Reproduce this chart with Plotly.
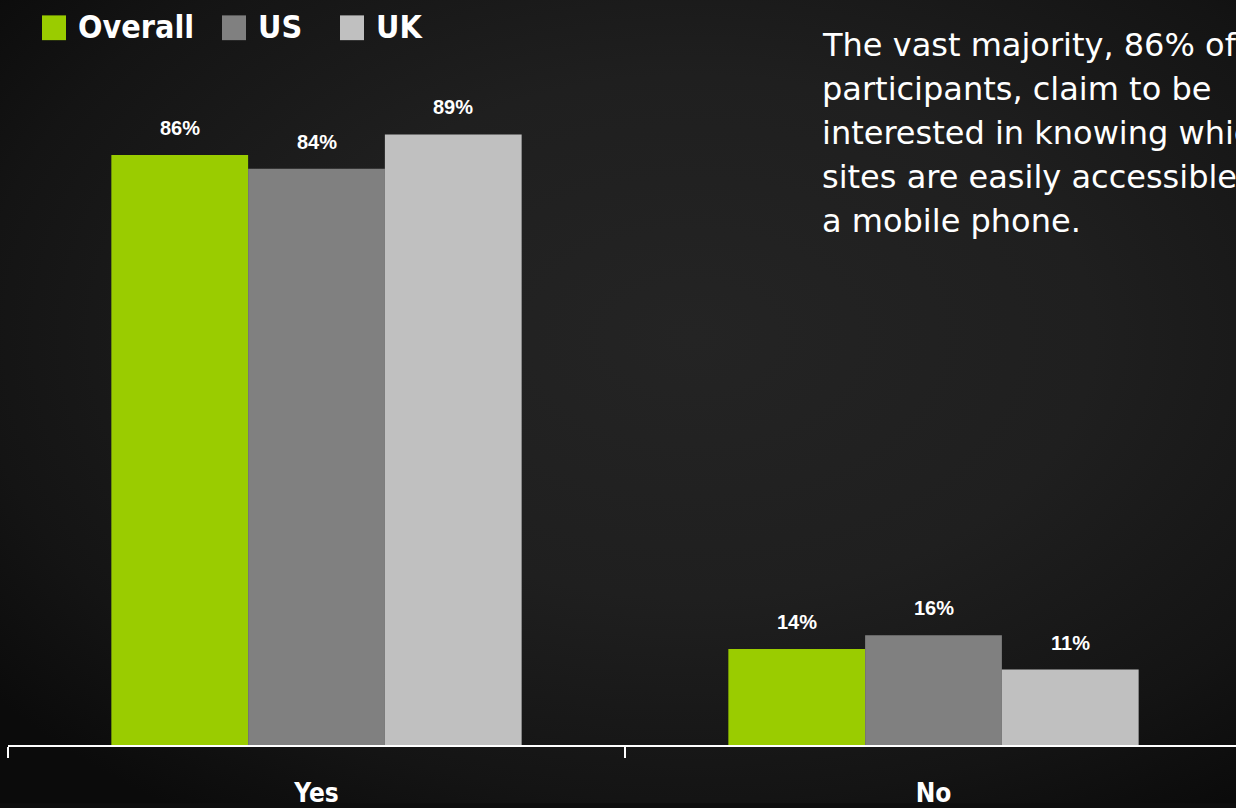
import base64
import plotly.graph_objects as go

# Survey answers and the share of respondents per group (percent)
categories = ["Yes", "No"]
series_names = ["Overall", "US", "UK"]
overall = [86, 14]
us = [84, 16]
uk = [89, 11]
series_values = [overall, us, uk]
series_colors = ["#9ACC00", "#808080", "#C0C0C0"]

note_lines = [
    "The vast majority, 86% of",
    "participants, claim to be",
    "interested in knowing which",
    "sites are easily accessible on",
    "a mobile phone.",
]

W, H = 1236, 808
M_L, M_R, M_T, M_B = 8, 0, 59, 57
BARGAP = 0.335

NARROW = "DejaVu Sans Condensed, Liberation Sans Narrow, sans-serif"
SANS = "Liberation Sans, Arial, sans-serif"
BODY = "DejaVu Sans, sans-serif"

fig = go.Figure()
for name, vals, color in zip(series_names, series_values, series_colors):
    fig.add_trace(go.Bar(
        x=categories, y=vals, name=name,
        marker=dict(color=color, line=dict(width=0)),
        showlegend=False, hoverinfo="skip",
    ))

# value labels above each bar, placed on the grouped-bar slots
bar_w = (1 - BARGAP) / len(series_names)
for k, vals in enumerate(series_values):
    off = (k - (len(series_names) - 1) / 2) * bar_w
    for i, v in enumerate(vals):
        fig.add_annotation(
            x=i + off, y=v, xref="x", yref="y",
            text=f"<b>{v}%</b>", showarrow=False,
            yanchor="middle", yshift=27,
            font=dict(family=SANS, size=20, color="#FFFFFF"),
        )

# custom legend: coloured squares followed by bold captions
pw, ph = W - M_L - M_R, H - M_T - M_B
def px_x(p):
    return (p - M_L) / pw
def px_y(p):
    return 1 - (p - M_T) / ph

legend_sq = [42, 222, 340]
for name, color, x0 in zip(series_names, series_colors, legend_sq):
    fig.add_shape(type="rect", xref="paper", yref="paper",
                  x0=px_x(x0), x1=px_x(x0 + 24), y0=px_y(40), y1=px_y(15),
                  fillcolor=color, line=dict(width=0))
    fig.add_annotation(x=px_x(x0 + 34), y=px_y(27), xref="paper", yref="paper",
                       text=f"<b>{name}</b>", showarrow=False,
                       xanchor="left", yanchor="middle",
                       font=dict(family=NARROW, size=32, color="#FFFFFF"))

# commentary block, one annotation per line for a 44px leading
for j, line in enumerate(note_lines):
    fig.add_annotation(x=px_x(820), y=px_y(45 + 44.3 * j), xref="paper", yref="paper",
                       text=line, showarrow=False, align="left",
                       xanchor="left", yanchor="middle",
                       font=dict(family=BODY, size=32, color="#FFFFFF"))

# dark vignette backdrop
bg_svg = (
    '<svg xmlns="http://www.w3.org/2000/svg" width="1236" height="808" '
    'preserveAspectRatio="none">'
    '<defs><radialGradient id="g" cx="0.56" cy="0.42" r="0.72">'
    '<stop offset="0" stop-color="#242424"/>'
    '<stop offset="0.45" stop-color="#1f1f1f"/>'
    '<stop offset="0.8" stop-color="#141414"/>'
    '<stop offset="1" stop-color="#0b0b0b"/>'
    '</radialGradient></defs>'
    '<rect width="1236" height="808" fill="url(#g)"/></svg>'
)
bg_uri = "data:image/svg+xml;base64," + base64.b64encode(bg_svg.encode()).decode()
fig.add_layout_image(dict(
    source=bg_uri, xref="paper", yref="paper",
    x=px_x(-2), y=px_y(-2), sizex=px_x(W + 2) - px_x(-2), sizey=px_y(-2) - px_y(H + 2),
    xanchor="left", yanchor="top", sizing="stretch", layer="below",
))

fig.update_layout(
    width=W, height=H,
    margin=dict(l=M_L, r=M_R, t=M_T, b=M_B, pad=0),
    paper_bgcolor="#0e0e0e", plot_bgcolor="rgba(0,0,0,0)",
    barmode="group", bargap=BARGAP, bargroupgap=0,
    xaxis=dict(
        type="category", range=[-0.5, -0.5 + pw / 617],
        showline=True, linecolor="#FFFFFF", linewidth=2,
        ticks="outside", tickson="boundaries", ticklen=11, tickwidth=2,
        tickcolor="#FFFFFF", showgrid=False, zeroline=False,
        tickfont=dict(family=NARROW, size=26, color="#FFFFFF"),
        ticklabelstandoff=24,
        tickvals=categories, ticktext=[f"<b>{c}</b>" for c in categories],
        fixedrange=True,
    ),
    yaxis=dict(range=[0, 100], visible=False, showgrid=False,
               zeroline=False, fixedrange=True),
)

fig.write_html("out.html")
